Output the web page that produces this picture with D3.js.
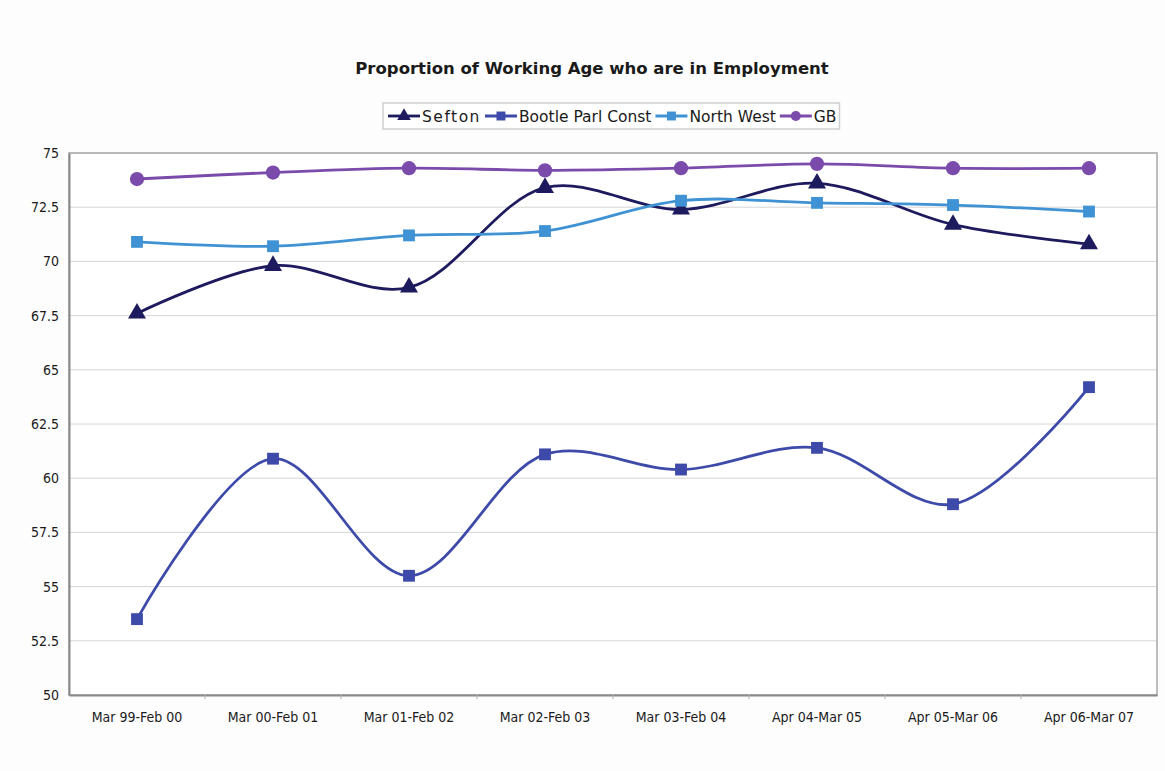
<!DOCTYPE html>
<html>
<head>
<meta charset="utf-8">
<script src="https://cdn.jsdelivr.net/npm/d3@7"></script>
<style>
  body { margin: 0; background: #fff; }
  text { font-family: "DejaVu Sans", sans-serif; fill: #1a1a1a; }
  .grid line { stroke: #d6d6d6; }
  .axis path, .axis line { stroke: #8a8a8a; }
</style>
</head>
<body>
<div id="chart"></div>
<script>
  // data
  var periods = ["Mar 99-Feb 00", "Mar 00-Feb 01", "Mar 01-Feb 02", "Mar 02-Feb 03",
                 "Mar 03-Feb 04", "Apr 04-Mar 05", "Apr 05-Mar 06", "Apr 06-Mar 07"];
  var sefton = [67.6, 69.8, 68.8, 73.4, 72.4, 73.6, 71.7, 70.8];
  var bootle = [53.5, 60.9, 55.5, 61.1, 60.4, 61.4, 58.8, 64.2];
  var northWest = [70.9, 70.7, 71.2, 71.4, 72.8, 72.7, 72.6, 72.3];
  var gb = [73.8, 74.1, 74.3, 74.2, 74.3, 74.5, 74.3, 74.3];
  var yTicks = [50, 52.5, 55, 57.5, 60, 62.5, 65, 67.5, 70, 72.5, 75];

  var series = [
    { name: "Sefton", values: sefton, color: "#1d1a5e", marker: "triangle" },
    { name: "Bootle Parl Const", values: bootle, color: "#3e4aa9", marker: "square" },
    { name: "North West", values: northWest, color: "#3f92d3", marker: "square" },
    { name: "GB", values: gb, color: "#7b4bab", marker: "circle" }
  ];

  var W = 1165, H = 771;
  var margin = { top: 153, right: 8, bottom: 76, left: 69 };
  var width = W - margin.left - margin.right,
      height = H - margin.top - margin.bottom;

  var svg = d3.select("#chart").append("svg")
      .attr("width", W)
      .attr("height", H);

  svg.append("rect").attr("width", W).attr("height", H).attr("fill", "#fdfdfd");

  var chart = svg.append("g")
      .attr("transform", "translate(" + margin.left + "," + margin.top + ")");

  var x = d3.scaleBand().domain(periods).range([0, width]);
  var y = d3.scaleLinear().domain([50, 75]).range([height, 0]);

  chart.append("rect")
    .attr("width", width).attr("height", height)
    .attr("fill", "#ffffff");

  // gridlines
  chart.append("g")
    .attr("class", "grid")
    .selectAll("line")
    .data(yTicks.slice(1))
    .enter().append("line")
    .attr("x1", 0).attr("x2", width)
    .attr("y1", function(d) { return y(d); })
    .attr("y2", function(d) { return y(d); });

  // frame right/top
  chart.append("rect")
    .attr("width", width).attr("height", height)
    .attr("fill", "none").attr("stroke", "#a8a8a8").attr("stroke-width", 1.5);

  var yAxis = chart.append("g")
    .attr("class", "axis")
    .call(d3.axisLeft(y).tickValues(yTicks).tickSize(0).tickPadding(10)
      .tickFormat(function(d) { return d; }));
  yAxis.select(".domain").attr("stroke-width", 2);
  yAxis.selectAll("text").style("font-size", "14px").style("font-stretch", "condensed");

  var xAxis = chart.append("g")
    .attr("class", "axis")
    .attr("transform", "translate(0," + height + ")")
    .call(d3.axisBottom(x).tickSize(0).tickPadding(17));
  xAxis.select(".domain").attr("stroke-width", 2);
  xAxis.selectAll("text").style("font-size", "14px").style("font-stretch", "condensed");

  // small ticks between categories
  chart.append("g")
    .selectAll("line")
    .data(periods.slice(1))
    .enter().append("line")
    .attr("x1", function(d) { return x(d); })
    .attr("x2", function(d) { return x(d); })
    .attr("y1", height).attr("y2", height + 4)
    .attr("stroke", "#b0b0b0");

  var line = d3.line()
    .x(function(d, i) { return x(periods[i]) + x.bandwidth() / 2; })
    .y(function(d) { return y(d); })
    .curve(d3.curveCatmullRom.alpha(0.5));

  function symbolFor(m, size) {
    var t = m == "triangle" ? d3.symbolTriangle : (m == "square" ? d3.symbolSquare : d3.symbolCircle);
    return d3.symbol().type(t).size(size)();
  }

  series.forEach(function(s) {
    chart.append("path")
      .datum(s.values)
      .attr("fill", "none")
      .attr("stroke", s.color)
      .attr("stroke-width", 2.8)
      .attr("d", line);
  });
  series.forEach(function(s) {
    chart.selectAll(null)
      .data(s.values)
      .enter().append("path")
      .attr("transform", function(d, i) {
        return "translate(" + (x(periods[i]) + x.bandwidth() / 2) + "," + y(d) + ")";
      })
      .attr("d", symbolFor(s.marker, s.marker == "circle" ? 160 : 140))
      .attr("fill", s.color);
  });

  // title
  svg.append("text")
    .attr("x", 592).attr("y", 74)
    .attr("text-anchor", "middle")
    .style("font-size", "16.5px").style("font-weight", "bold")
    .text("Proportion of Working Age who are in Employment");

  // legend
  var legend = svg.append("g").attr("transform", "translate(383,103)");
  var legBox = legend.append("rect")
    .attr("height", 26).attr("fill", "#fff")
    .attr("stroke", "#cfcfcf").attr("stroke-width", 1.5);
  var lx = 5;
  series.forEach(function(s) {
    var g = legend.append("g").attr("transform", "translate(" + lx + ",13)");
    g.append("line").attr("x1", 0).attr("x2", 32)
      .attr("stroke", s.color).attr("stroke-width", 2.8);
    g.append("path").attr("transform", "translate(16,0)")
      .attr("d", symbolFor(s.marker, 80)).attr("fill", s.color);
    var t = g.append("text").attr("x", 34).attr("y", 5.5)
      .style("font-size", "15.5px")
      .style("letter-spacing", s.name == "Sefton" ? "1.5px" : "0px")
      .text(s.name);
    lx += 34 + t.node().getComputedTextLength() + 4;
  });
  legBox.attr("width", lx - 1);
</script>
</body>
</html>
